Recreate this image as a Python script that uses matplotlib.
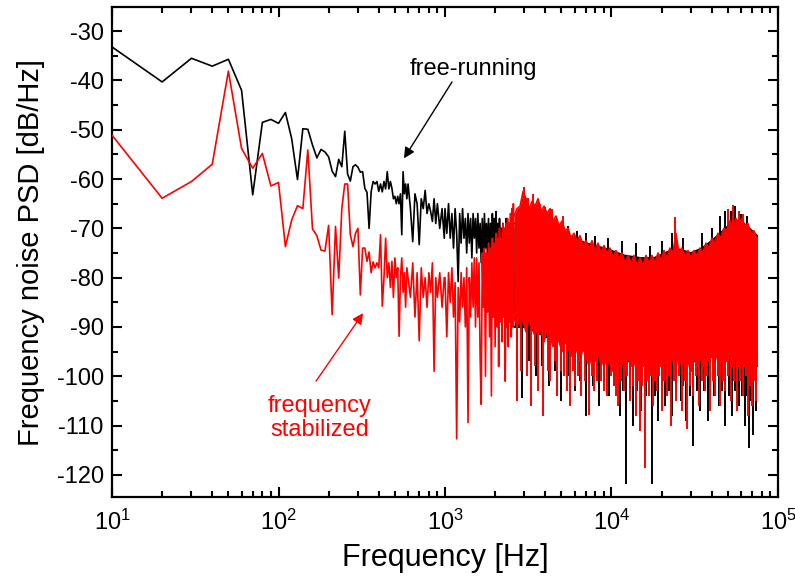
import numpy as np
import matplotlib
matplotlib.use("Agg")
import matplotlib.pyplot as plt
from matplotlib.ticker import MultipleLocator, LogLocator, NullFormatter

plt.rcParams['font.family'] = ['Liberation Sans', 'DejaVu Sans']
plt.rcParams['mathtext.fontset'] = 'custom'
plt.rcParams['mathtext.rm'] = 'Liberation Sans'
plt.rcParams['mathtext.it'] = 'Liberation Sans'
plt.rcParams['axes.unicode_minus'] = False

# ---------------- data ----------------
# free-running (black): individual points, 10 Hz .. 2.6 kHz
black_freq = [10, 20, 30, 40, 50, 60, 70, 80, 90, 100, 110, 120, 130, 140, 150, 160, 170,
              180, 190, 200, 210, 220, 230, 240, 250, 260, 270, 280, 290, 300, 310, 320,
              330, 340, 350, 360, 370, 380, 390, 400, 410, 420, 430, 440, 450, 460, 470,
              480, 490, 500, 510, 520, 530, 540, 550, 560, 570, 580, 590, 600, 620, 640,
              660, 680, 700, 720, 740, 760, 780, 800, 820, 840, 860, 880, 900, 930, 960,
              990,
              1000, 1025, 1050, 1075, 1100, 1125, 1150, 1175, 1200, 1225, 1250, 1275, 1300,
              1325, 1350, 1375, 1400, 1425, 1450, 1475, 1500, 1525, 1550, 1575, 1600, 1625,
              1650, 1675, 1700, 1725, 1750, 1775, 1800, 1825, 1850, 1875, 1900, 1925, 1950,
              1975, 2000, 2025, 2050, 2075, 2100, 2125, 2150, 2175, 2200, 2225, 2250, 2275,
              2300, 2325, 2350, 2375, 2400, 2425, 2450, 2475, 2500, 2525, 2550, 2575, 2600]
black_psd = [-33.2, -40.3, -35.5, -37.1, -35.7, -42.0, -63.2, -48.5, -47.9, -48.7, -46.5,
             -51.8, -60.1, -49.8, -49.9, -53.1, -55.7, -54.0, -54.5, -55.5, -58.4, -59.5,
             -56.0, -57.5, -50.3, -59.0, -60.4, -57.5, -57.1, -57.6, -58.6, -58.5, -61.9,
             -62.7, -70.0, -62.6, -60.5, -61.0, -60.5, -62.5, -61.0, -62.6, -60.5, -62.0,
             -58.5, -62.0, -60.5, -61.9, -64.0, -63.5, -65.0, -63.5, -65.0, -63.0, -71.3,
             -58.5, -63.0, -61.0, -64.0, -61.0, -66.0, -72.7, -63.0, -65.0, -73.3, -64.0,
             -66.0, -62.3, -67.0, -65.0, -66.6, -68.6, -64.0, -69.0, -65.0, -70.0, -66.0,
             -72.0,
             -66, -71, -65, -72, -67, -74, -66, -71, -80.8, -67, -73, -66, -72, -68, -75,
             -67, -73, -68, -76, -67, -72, -68, -75, -67, -74, -69, -77, -68, -78, -67,
             -74, -69, -76, -68, -79, -69, -80, -67, -75, -68, -77, -66.6, -79, -69, -83,
             -68, -78, -70, -82, -69, -86, -70, -97, -68, -84, -70, -88, -69, -84, -71,
             -90, -68, -85, -70, -87]

# frequency stabilized (red): individual points, 10 Hz .. 2.6 kHz
red_freq = [10, 20, 30, 40, 50, 60, 70, 80, 90, 100, 110, 120, 130, 140, 150, 160, 170,
            180, 190, 200, 210, 220, 230, 240, 250, 260, 270, 280, 290, 300, 310, 320, 330,
            340, 350, 360, 370, 380, 390, 400, 410, 420, 430, 440, 450, 460, 470, 480, 490,
            500, 510, 520, 530, 540, 550, 560, 570, 580, 590, 600, 620, 640, 660, 680, 700,
            720, 740, 760, 780, 800, 820, 840, 860, 880, 900, 930, 960, 990,
            1000, 1025, 1050, 1075, 1100, 1125, 1150, 1175, 1200, 1225, 1250, 1275, 1300,
            1325, 1350, 1375, 1400, 1425, 1450, 1475, 1500, 1525, 1550, 1575, 1600, 1625,
            1650, 1675, 1700, 1725, 1750, 1775, 1800, 1825, 1850, 1875, 1900, 1925, 1950,
            1975, 2000, 2025, 2050, 2075, 2100, 2125, 2150, 2175, 2200, 2225, 2250, 2275,
            2300, 2325, 2350, 2375, 2400, 2425, 2450, 2475, 2500, 2525, 2550, 2575, 2600]
red_psd = [-51.1, -63.9, -60.5, -57.0, -38.1, -53.8, -57.8, -54.8, -61.4, -60.7, -73.7,
           -68.3, -65.4, -66.0, -54.1, -70.1, -71.5, -74.4, -74.6, -69.4, -87.5, -69.6,
           -80.1, -66.0, -61.0, -61.0, -71.3, -73.7, -71.0, -70.0, -83.5, -74.0, -74.0,
           -76.7, -74.8, -79.0, -76.8, -78.0, -77.0, -78.0, -71.3, -85.8, -80.0, -72.0,
           -80.0, -77.0, -82.0, -76.7, -84.0, -76.0, -80.0, -78.0, -91.9, -80.0, -76.0,
           -83.0, -79.0, -86.0, -78.0, -80.0, -84.0, -77.0, -88.0, -79.0, -92.8, -78.0,
           -84.0, -80.0, -86.0, -79.0, -83.0, -77.0, -99.0, -80.0, -84.0, -79.0, -86.0,
           -80.0,
           -80, -92, -79, -85, -78, -88, -81, -112.7, -82, -89, -79, -86, -80, -90, -78,
           -109.4, -80, -88, -77, -86, -76, -90, -76, -88, -77, -96, -105.7, -75, -86,
           -74, -100, -75, -87, -73, -92, -74, -104, -72, -88, -73, -94, -71, -90, -72,
           -98, -70, -89, -72, -93, -69, -88, -70, -101, -69, -90, -68, -94, -69, -89,
           -67, -92, -66, -90, -65, -88]

# dense high-frequency part (2.6 kHz .. 75 kHz): envelope of the solid band
red_hf_freq = [2600, 2710, 2825, 2945, 3070, 3200, 3335, 3475, 3620, 3775, 3935, 4100,
               4275, 4455, 4645, 4840, 5045, 5260, 5480, 5715, 5955, 6210, 6470, 6745,
               7030, 7330, 7640, 7960, 8300, 8650, 9015, 9400, 9795, 10210, 10640, 11090,
               11560, 12050, 12560, 13090, 13650, 14225, 14825, 15455, 16110, 16790, 17500,
               18240, 19015, 19820, 20660, 21530, 22440, 23390, 24380, 25415, 26490, 27610,
               28780, 30000, 31270, 32590, 33970, 35410, 36910, 38470, 40100, 41800, 43570,
               45410, 47330, 49340, 51430, 53600, 55870, 58240, 60700, 63270, 65950, 68740,
               71650, 74680]
red_hf_top = [-67.5, -66, -65.5, -62.5, -64, -66, -64.5, -65.5, -64, -66.5, -65.5, -67,
              -66, -68.5, -67.5, -69.5, -68.5, -70.5, -70, -72, -71, -72.5, -71.5, -73.5,
              -72.5, -74, -72.5, -74.5, -73, -75, -73.5, -75, -74, -76, -74.5, -76, -75,
              -77, -75.5, -77, -75.5, -77.5, -76, -77.5, -75.5, -77, -75.5, -77, -75, -76.5,
              -74.5, -76, -74, -75, -71, -75, -74, -75.5, -74.5, -76, -74.5, -75.5, -74,
              -75, -73, -74, -72, -73, -71, -72, -70, -70.5, -68.5, -69.5, -68, -69, -68,
              -69.5, -69, -71, -70.5, -72]
red_hf_bot = [-88, -90, -87, -89, -91, -88, -90, -92, -89, -91, -93, -90, -92, -94, -91,
              -93, -95, -92, -94, -96, -93, -95, -97, -94, -96, -98, -95, -97, -95, -98,
              -96, -98, -96, -99, -96, -98, -97, -99, -96, -98, -97, -99, -96, -98, -97,
              -99, -96, -98, -96, -98, -96, -98, -96, -97, -95, -98, -96, -98, -97, -99,
              -96, -98, -96, -98, -96, -97, -95, -97, -95, -97, -95, -97, -96, -98, -96,
              -98, -96, -98, -97, -99, -97, -98]

black_hf_freq = [2600, 3000, 3500, 4000, 5000, 6000, 7000, 8000, 10000, 12000, 15000,
                 18000, 21000, 24000, 27000, 30000, 35000, 40000, 45000, 50000, 55000,
                 60000, 65000, 70000, 75000]
black_hf_top = [-69, -69, -70, -70, -70.5, -72, -73, -73.5, -74.5, -75.5, -76, -76, -75,
                -74, -74.5, -75, -74, -72.5, -71, -69.5, -68.5, -68.5, -69.5, -70.5, -71.5]
black_hf_bot = [-90, -90, -91, -92, -93, -94, -95, -96, -97, -97, -97, -97, -97, -96, -97,
                -97, -97, -96, -96, -96, -97, -97, -97, -98, -98]

# isolated spikes sticking out of the band
black_spike_freq = [2700, 2900, 3200, 3500, 3800, 4200, 4600, 5000, 5500, 6000, 6500, 7000,
                    7700, 8400, 9000, 9600, 10400, 11200, 11800, 12300, 12900, 13500,
                    14200, 15000, 16200, 17400, 18300, 19000, 20000, 21000, 22000, 23000,
                    24500, 26000, 27000, 28000, 29500, 30800, 32500, 34000, 36000, 38000,
                    41000, 44000, 46000, 48000, 50500, 53000, 55500, 58000, 60500, 63000,
                    65000, 67000, 69000, 71000, 74000,
                    2900, 3300, 5500, 6200, 7000, 8000, 9500, 11500, 14000, 17000, 20000,
                    23000, 27000, 35000, 40000, 45000, 48000, 52000, 55000, 60000, 65000]
black_spike_psd = [-98, -104.5, -97, -100, -98, -102, -99, -105, -100, -103, -101, -108,
                   -102, -106, -101, -104, -102, -108, -103, -121.9, -104, -110, -103,
                   -107, -104, -121.9, -104, -109, -103, -106, -103, -108, -103, -105,
                   -102, -109, -104, -114.2, -103, -107, -103, -109, -104, -106, -103,
                   -110, -104, -108, -103, -106, -104, -110, -104, -114.5, -105, -112,
                   -107,
                   -67, -68, -69.5, -70.5, -71, -71.5, -72, -72.6, -73, -73.5, -72.5, -71,
                   -72, -71, -70, -67.5, -66.5, -66.5, -65.5, -67, -67.5]
red_spike_freq = [2700, 2850, 3100, 3300, 3450, 3600, 3900, 4150, 4300, 4550, 4700, 4950,
                  5200, 5400, 5600, 5850, 6000, 6300, 6600, 6900, 7300, 7600, 7900, 8200,
                  8600, 9000, 9400, 9900, 10300, 10700, 11000, 11400, 11900, 12400, 12900,
                  13400, 14000, 14400, 14800, 15300, 15800, 16300, 16800, 17200, 17700,
                  18200, 18800, 19400, 20000, 20700, 21500, 22100, 22800, 23600, 24500,
                  25500, 26500, 27500, 28500, 29500, 31000, 32200, 33500, 35000, 36500,
                  37700, 39000, 40500, 42000, 43500, 45000, 46500, 48000, 50000, 52000,
                  54500, 57000, 59500, 62000, 64000, 66000, 68000, 70000, 72000, 73500,
                  2980, 3150, 3400, 3700, 4000, 4400, 5100, 24200, 50000, 54000, 58000,
                  62000]
red_spike_psd = [-105, -99, -100, -106, -98, -103, -108, -99, -101, -97, -104, -99, -100,
                 -103, -106, -99, -102, -100, -104, -101, -107.8, -100, -103, -101, -101,
                 -103, -104, -100, -102, -104, -106, -101, -103, -100, -105, -102, -108,
                 -101, -111.2, -102, -118.6, -101, -104, -100, -106, -101, -103, -100,
                 -107, -101, -104, -100, -110, -101, -105, -100, -107, -101, -110.8, -102,
                 -104, -100, -106, -101, -103, -100, -107, -101, -104, -100, -106, -101,
                 -103, -100, -105, -101, -107, -101, -104, -100, -108, -102, -106, -101,
                 -105,
                 -61.6, -63.9, -63, -65, -65.6, -66, -67.5, -67.6, -66, -65.3, -66.5, -67]

ytick_vals = [-30, -40, -50, -60, -70, -80, -90, -100, -110, -120]

# ---------------- figure ----------------
fig = plt.figure(figsize=(7.95, 5.8), dpi=100)
ax = fig.add_axes([0.1409, 0.1431, 0.8377, 0.8448])

LW = 1.2


def draw_series(ax, f_lo, p_lo, f_hf, top, bot, sf, sp, color, z):
    ax.plot(f_lo, p_lo, color=color, lw=LW, zorder=z)
    ax.fill_between(f_hf, bot, top, color=color, lw=0, zorder=z)
    ax.plot(f_hf, top, color=color, lw=LW, zorder=z)
    ax.plot(f_hf, bot, color=color, lw=LW, zorder=z)
    mid = (np.asarray(top, float) + np.asarray(bot, float)) / 2.0
    base = np.interp(np.log10(sf), np.log10(f_hf), mid)
    ax.vlines(sf, base, sp, color=color, lw=1.4, zorder=z)


draw_series(ax, black_freq, black_psd, black_hf_freq, black_hf_top, black_hf_bot,
            black_spike_freq, black_spike_psd, 'black', 2)
draw_series(ax, red_freq, red_psd, red_hf_freq, red_hf_top, red_hf_bot,
            red_spike_freq, red_spike_psd, '#ff0000', 3)

ax.set_xscale('log')
ax.set_xlim(10, 1e5)
ax.set_ylim(-124.5, -25.1)
ax.set_yticks(ytick_vals)
ax.yaxis.set_minor_locator(MultipleLocator(5))
ax.xaxis.set_major_locator(LogLocator(base=10, numticks=10))
ax.xaxis.set_minor_locator(LogLocator(base=10, subs=np.arange(2, 10), numticks=20))
ax.xaxis.set_minor_formatter(NullFormatter())

for s in ax.spines.values():
    s.set_linewidth(1.6)
ax.tick_params(which='both', direction='in', top=True, right=True, width=1.5)
ax.tick_params(which='major', length=7, labelsize=17, pad=6)
ax.tick_params(which='minor', length=4)
ax.tick_params(axis='x', which='major', pad=9)

ax.set_xlabel('Frequency [Hz]', fontsize=22, labelpad=6)
ax.set_ylabel('Frequency noise PSD [dB/Hz]', fontsize=21, labelpad=8)

ax.text(1473, -37.7, 'free-running', color='black', fontsize=17,
        ha='center', va='center', zorder=5)
ax.annotate('', xy=(567, -55.8), xytext=(1102, -40.3),
            arrowprops=dict(arrowstyle='-|>', color='black', lw=1.0,
                            mutation_scale=16, shrinkA=0, shrinkB=0), zorder=5)
ax.text(177, -108.5, 'frequency\nstabilized', color='#ff0000', fontsize=17,
        ha='center', va='center', linespacing=1.15, zorder=5)
ax.annotate('', xy=(322, -87.2), xytext=(168, -101),
            arrowprops=dict(arrowstyle='-|>', color='#ff0000', lw=1.0,
                            mutation_scale=16, shrinkA=0, shrinkB=0), zorder=5)

fig.savefig('out.png', dpi=100)
